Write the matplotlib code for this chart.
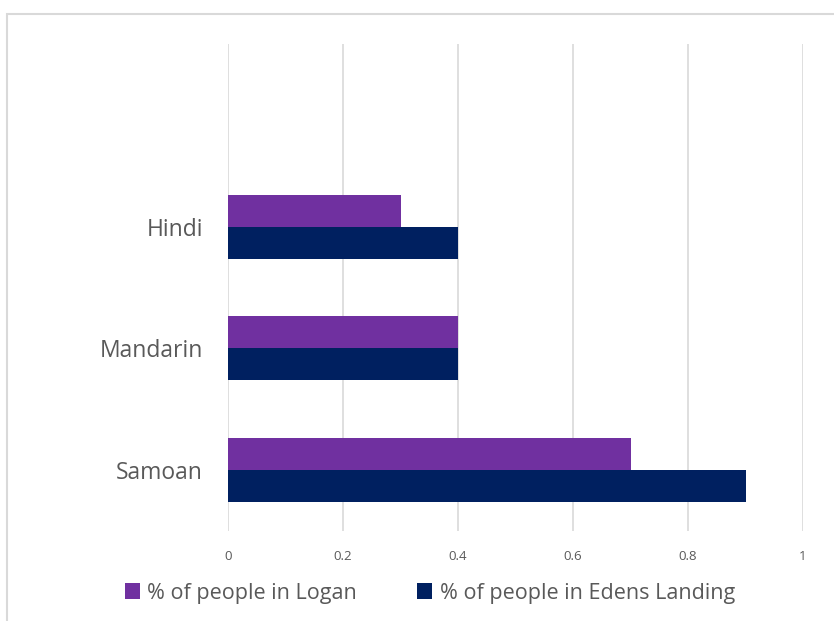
import matplotlib
matplotlib.use('Agg')
import matplotlib.pyplot as plt
from matplotlib.patches import Rectangle
import numpy as np

# Data
CATEGORIES = ['Samoan', 'Mandarin', 'Hindi']
LOGAN = [0.7, 0.4, 0.3]
EDENS = [0.9, 0.4, 0.4]
X_TICKS = [0, 0.2, 0.4, 0.6, 0.8, 1]
X_TICK_LABELS = ['0', '0.2', '0.4', '0.6', '0.8', '1']

LOGAN_COLOR = '#7030A0'
EDENS_COLOR = '#002060'
GRID_COLOR = '#D9D9D9'
TEXT_COLOR = '#595959'

plt.rcParams['font.family'] = ['Open Sans', 'DejaVu Sans']

W, H = 834, 621
fig = plt.figure(figsize=(W / 100, H / 100), dpi=100)

# Chart frame (cropped at right and bottom)
fig.add_artist(Rectangle((7 / W, -0.1), 1.2, 1.1 - 14 / H, transform=fig.transFigure,
                         fill=False, edgecolor=GRID_COLOR, linewidth=1.5))

ax = fig.add_axes([228 / W, 1 - 531 / H, (803 - 228) / W, (531 - 44) / H])

y = np.arange(len(CATEGORIES))
bar_h = 0.262
ax.barh(y + bar_h / 2, LOGAN, height=bar_h, color=LOGAN_COLOR, label='% of people in Logan', zorder=3)
ax.barh(y - bar_h / 2, EDENS, height=bar_h, color=EDENS_COLOR, label='% of people in Edens Landing', zorder=3)

ax.set_xlim(0, 1)
ax.set_ylim(-0.5, 3.5)
ax.set_xticks(X_TICKS)
ax.set_xticklabels(X_TICK_LABELS)
ax.set_yticks(y)
ax.set_yticklabels(CATEGORIES)

ax.grid(axis='x', color=GRID_COLOR, linewidth=1.2, zorder=0)
for s in ax.spines.values():
    s.set_visible(False)
ax.tick_params(axis='both', length=0)
ax.tick_params(axis='x', labelsize=9.5, labelcolor=TEXT_COLOR, pad=14)
ax.tick_params(axis='y', labelsize=16.5, labelcolor=TEXT_COLOR, pad=18)

handles, labels = ax.get_legend_handles_labels()
fig.legend(handles, labels, loc='center', bbox_to_anchor=(430 / W, 1 - 593 / H), ncol=2,
           frameon=False, fontsize=15.5, labelcolor=TEXT_COLOR, handlelength=0.7,
           handleheight=0.7, handletextpad=0.35, columnspacing=2.8)

fig.savefig('out.png', dpi=100, facecolor='white')
